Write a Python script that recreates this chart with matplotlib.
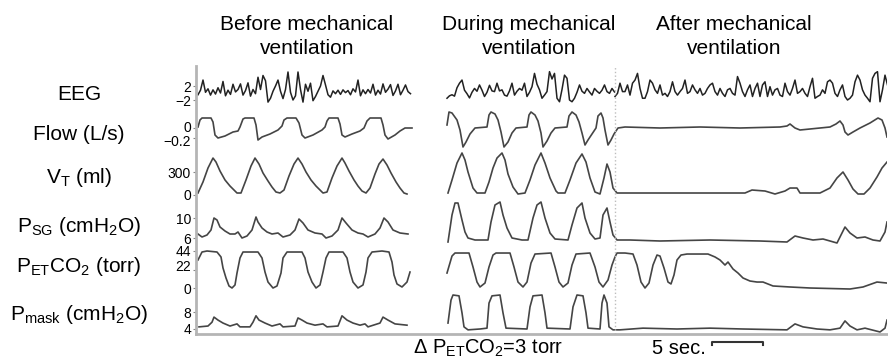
import numpy as np
import matplotlib.pyplot as plt
import matplotlib.transforms as mtransforms

plt.rcParams['font.family'] = ['Liberation Sans', 'DejaVu Sans']
plt.rcParams['mathtext.default'] = 'regular'

# ---- data (time in s, values in the units of each row) ----
EEG_STEP = 0.25
EEG_PRE_START = 0.2
EEG_PRE = [-0.5, 0.8, 3.7, 0.2, 1.2, -0.6, 0.9, -0.3, 1.5, 0.0, 3.3, -0.8,
           0.8, -0.4, 2.5, 0.3, 1.0, 2.6, -0.6, 0.7, 2.9, -0.9, 1.0, -0.2,
           4.5, 1.0, 5.0, 3.5, -2.6, -1.5, 0.5, 2.0, 3.7, 0.5, -1.6, 1.0,
           6.0, 0.2, -2.0, -0.8, 6.0, 1.0, -2.6, 2.5, 0.5, 2.8, -2.2, -1.0,
           0.5, 2.0, 5.0, 2.3, -0.5, -1.2, 0.6, -0.2, 0.8, -0.4, 0.9, 0.1,
           0.7, -0.5, 1.2, 0.3, 3.7, -0.8, 0.9, -0.2, 1.0, 0.0, 2.5, -0.6,
           0.8, -0.3, 2.6, 0.2, 1.1, 2.4, -0.7, 0.6, 2.5, -0.5, 0.8, 2.3,
           0.4, -0.2]
EEG_MID_START = 25.1
EEG_MID = [-1.5, -0.8, -0.5, -0.9, 1.5, 2.8, 3.7, 0.8, -0.2, -1.4, 0.2, 1.3,
           0.5, 2.3, 0.8, -1.0, 0.2, 2.2, 0.6, 0.4, 2.8, 0.6, 0.9, -0.6,
           -0.9, 0.6, 2.8, -0.6, 0.5, 1.3, 0.8, 2.8, -1.0, 0.2, 1.8, 5.6,
           2.5, 0.9, -1.5, -0.6, 0.4, 6.1, 4.0, 5.6, -1.5, -2.5, 1.0, 5.1,
           4.2, -2.0, -2.5, -1.5, 0.2, 2.3, 0.5, -0.1, 1.3, 0.3, -0.6, 1.3,
           0.5, -0.1, 0.8, 2.3, 0.4, -0.1, 1.3, 0.3]
EEG_POST_START = 41.9
EEG_POST = [-1.0, -0.1, 2.8, 0.4, 0.4, 2.3, -0.6, 2.8, 3.7, 5.6, 1.3, -1.5,
            -1.5, 0.4, 3.7, 2.8, 0.9, -0.1, 2.3, -0.6, -0.1, -1.0, 0.4, 3.2,
            0.4, -0.6, 0.4, 1.3, 3.7, -0.1, 0.4, 2.3, 0.9, -0.1, 1.3, -0.6,
            -0.1, 1.3, 2.3, 2.8, 0.4, -0.6, 1.3, -0.1, -1.0, 0.9, 1.3, -0.1,
            -0.6, 4.7, 2.8, 0.4, -1.0, 0.9, 2.3, -1.0, 1.3, 2.8, -1.0, 2.3,
            3.2, -1.0, 1.8, -0.6, 0.9, 1.3, -0.6, -1.0, 2.8, 0.4, -0.6, 1.3,
            3.7, -0.1, 0.4, 1.3, -0.1, -1.0, 1.8, 4.2, -1.5, -1.0, -0.6, 0.9,
            -0.1, 3.2, 3.7, 2.8, -0.1, -1.0, 0.9, 2.3, -1.0, -2.0, -1.5, -0.6,
            3.2, 5.1, 3.7, 0.9, -0.6, -1.5, -2.5, 4.2, 5.6, 6.1, -2.5, 0.9,
            5.1, 2.3]

FLOW_PRE = [(0.2, 0.02), (0.4, 0.16), (0.6, 0.2), (1.5, 0.2), (1.7, 0.12), (1.9, -0.14),
            (2.2, -0.2), (2.9, -0.16), (3.7, -0.08), (4.2, -0.06), (4.4, 0.02), (4.7, 0.18),
            (4.9, 0.2), (5.8, 0.2), (6.0, 0.06), (6.2, -0.24), (6.6, -0.18), (7.4, -0.12),
            (8.2, -0.04), (8.6, 0.04), (8.8, 0.16), (9.1, 0.2), (10.0, 0.2), (10.3, 0.1),
            (10.6, -0.14), (10.9, -0.2), (11.7, -0.14), (12.6, -0.04), (12.9, 0.02),
            (13.1, 0.14), (13.3, 0.2), (14.2, 0.2), (14.4, 0.08), (14.6, -0.14),
            (14.9, -0.18), (15.6, -0.12), (16.4, -0.06), (16.8, 0.0), (17.1, 0.14),
            (17.4, 0.2), (18.5, 0.2), (18.7, 0.06), (18.9, -0.14), (19.2, -0.22),
            (19.9, -0.14), (20.4, -0.06), (20.9, 0.0), (21.6, 0.0)]
FLOW_POST = [(25.1, 0.06), (25.3, 0.32), (25.6, 0.3), (26.1, 0.16), (26.4, -0.04),
             (26.7, -0.38), (27.0, -0.28), (27.4, -0.12), (27.9, 0.0), (29.1, 0.02),
             (29.3, 0.26), (29.5, 0.32), (29.9, 0.28), (30.2, 0.16), (30.5, -0.08),
             (30.8, -0.38), (31.2, -0.28), (31.6, -0.1), (32.0, 0.0), (33.1, 0.02),
             (33.3, 0.26), (33.5, 0.32), (33.9, 0.26), (34.2, 0.14), (34.5, -0.1),
             (34.7, -0.38), (35.1, -0.26), (35.5, -0.1), (35.9, 0.0), (37.1, 0.02),
             (37.3, 0.24), (37.6, 0.32), (38.0, 0.26), (38.3, 0.12), (38.6, -0.1),
             (38.9, -0.34), (39.2, -0.24), (39.6, -0.12), (40.0, 0.0), (40.2, 0.24),
             (40.5, 0.3), (40.7, 0.2), (40.9, -0.04), (41.2, -0.34), (41.5, -0.24),
             (41.8, -0.12), (42.2, 0.0), (42.9, 0.02), (46.4, 0.0), (50.4, 0.02),
             (54.4, 0.0), (58.4, 0.02), (59.1, 0.04), (59.4, 0.08), (59.9, 0.0),
             (60.4, -0.04), (61.4, -0.02), (63.4, 0.02), (64.0, 0.08), (64.4, 0.14),
             (64.7, 0.06), (64.9, -0.08), (65.2, -0.14), (65.7, -0.08), (66.4, 0.0),
             (67.4, 0.1), (68.2, 0.2), (68.6, 0.16), (68.9, 0.0), (69.1, -0.18)]

VT_PRE = [(0.2, 26), (0.7, 170), (1.2, 352), (1.7, 482), (2.0, 430), (2.4, 313), (2.9, 196),
          (3.4, 117), (3.8, 65), (4.1, 26), (4.5, 26), (5.0, 196), (5.5, 378), (5.9, 482),
          (6.3, 404), (6.7, 287), (7.2, 183), (7.6, 104), (8.0, 39), (8.4, 26), (8.8, 65),
          (9.3, 248), (9.8, 404), (10.2, 482), (10.6, 404), (11.0, 300), (11.5, 196),
          (12.0, 117), (12.4, 65), (12.7, 26), (13.1, 39), (13.6, 222), (14.1, 378),
          (14.6, 482), (14.9, 417), (15.3, 313), (15.8, 196), (16.2, 117), (16.6, 52),
          (17.0, 26), (17.4, 91), (17.9, 274), (18.3, 404), (18.7, 469), (19.1, 391),
          (19.5, 287), (20.0, 170), (20.4, 91), (20.8, 26), (21.1, 13)]
VT_POST = [(25.2, 26), (25.6, 196), (26.1, 417), (26.6, 548), (26.9, 456), (27.2, 300),
           (27.7, 91), (28.1, 26), (28.9, 26), (29.3, 170), (29.7, 352), (30.1, 482),
           (30.6, 548), (30.9, 456), (31.2, 274), (31.7, 104), (32.2, 13), (32.9, 26),
           (33.4, 196), (33.9, 391), (34.5, 548), (34.9, 417), (35.4, 222), (36.0, 52),
           (36.2, 26), (36.9, 26), (37.4, 196), (38.0, 417), (38.6, 535), (39.0, 430),
           (39.4, 222), (39.9, 39), (40.4, 13), (40.8, 222), (41.1, 404), (41.4, 300),
           (41.7, 91), (42.1, 26), (50.4, 26), (54.9, 26), (55.6, 65), (56.9, 52),
           (57.9, 13), (58.9, 52), (59.4, 91), (60.1, 91), (60.4, 26), (62.4, 26),
           (63.4, 91), (64.1, 222), (64.7, 300), (65.2, 196), (65.7, 78), (66.2, 13),
           (66.8, 13), (67.4, 91), (68.1, 235), (68.6, 352), (69.1, 430)]

PSG_PRE = [(0.2, 6.8), (0.6, 6.2), (1.1, 6.6), (1.5, 7.6), (1.8, 10.0), (2.1, 9.6), (2.4, 8.2),
           (2.9, 7.4), (3.4, 6.8), (3.9, 6.8), (4.2, 7.2), (4.6, 6.0), (5.1, 6.4), (5.6, 7.6),
           (6.0, 10.2), (6.2, 9.2), (6.6, 8.0), (7.1, 7.2), (7.6, 6.8), (8.2, 7.0), (8.7, 6.2),
           (9.4, 6.6), (9.9, 7.6), (10.3, 9.8), (10.7, 9.0), (11.2, 7.6), (11.9, 7.0),
           (12.6, 6.8), (13.0, 6.0), (13.6, 6.4), (14.2, 7.6), (14.6, 10.0), (15.0, 9.0),
           (15.6, 7.6), (16.2, 7.0), (16.7, 6.8), (17.2, 6.2), (17.9, 6.8), (18.4, 8.0),
           (18.8, 10.0), (19.2, 9.2), (19.7, 7.6), (20.4, 7.0), (21.2, 6.8)]
PSG_POST = [(25.2, 5.2), (25.6, 10.6), (25.9, 13.0), (26.2, 13.0), (26.6, 9.6), (26.9, 7.2),
            (27.2, 6.0), (27.9, 5.6), (29.2, 5.6), (29.5, 9.2), (29.9, 12.6), (30.4, 13.2),
            (30.7, 10.6), (31.1, 8.0), (31.6, 6.0), (32.6, 5.6), (33.2, 5.6), (33.7, 10.0),
            (34.1, 12.6), (34.5, 13.2), (34.9, 10.0), (35.4, 7.0), (35.9, 5.8), (37.2, 5.6),
            (37.6, 8.6), (38.1, 12.0), (38.6, 13.0), (38.9, 10.0), (39.4, 7.0), (39.9, 5.8),
            (40.4, 6.0), (40.7, 10.6), (41.1, 12.0), (41.4, 9.2), (41.7, 6.6), (42.1, 5.6),
            (43.4, 5.6), (46.4, 5.4), (51.4, 5.6), (56.4, 5.4), (59.1, 5.2), (59.9, 6.4),
            (60.7, 6.0), (61.7, 5.6), (62.7, 5.8), (64.1, 5.0), (64.6, 7.0), (64.9, 8.2),
            (65.4, 7.0), (66.1, 6.0), (66.9, 6.2), (67.7, 5.6), (68.4, 5.4), (68.9, 7.2),
            (69.1, 9.2)]

CO2_PRE = [(0.2, 33.3), (0.6, 42.8), (1.1, 44.0), (2.1, 42.8), (2.5, 36.9), (2.7, 23.8),
           (3.0, 11.9), (3.3, 2.4), (3.6, 0.0), (3.9, 3.6), (4.1, 17.8), (4.4, 35.7),
           (4.7, 42.8), (6.2, 42.8), (6.6, 35.7), (6.9, 19.0), (7.2, 7.1), (7.7, 0.0),
           (8.1, 2.4), (8.5, 17.8), (8.7, 35.7), (9.1, 42.8), (10.6, 42.8), (10.9, 35.7),
           (11.2, 19.0), (11.6, 7.1), (12.0, 0.0), (12.4, 3.6), (12.7, 19.0), (13.0, 35.7),
           (13.3, 42.8), (14.7, 42.8), (15.1, 35.7), (15.4, 19.0), (15.7, 7.1), (16.2, 0.0),
           (16.7, 3.6), (17.0, 19.0), (17.2, 35.7), (17.6, 42.8), (18.6, 44.0),
           (19.3, 42.8), (19.6, 30.9), (19.8, 15.5), (20.1, 4.8), (20.6, 1.2), (21.1, 7.1),
           (21.4, 19.0)]
CO2_POST = [(25.1, 17.8), (25.6, 38.0), (25.9, 41.6), (27.3, 41.6), (27.7, 25.0), (28.1, 7.1),
            (28.4, 1.2), (28.9, 5.9), (29.3, 25.0), (29.7, 39.2), (30.0, 41.6), (31.4, 41.6),
            (31.8, 25.0), (32.2, 7.1), (32.7, 1.2), (33.1, 7.1), (33.5, 29.7), (33.9, 40.4),
            (35.5, 41.6), (35.9, 25.0), (36.3, 7.1), (36.7, 1.2), (37.2, 5.9), (37.6, 27.3),
            (38.0, 40.4), (39.4, 41.6), (39.9, 25.0), (40.3, 7.1), (40.7, 1.2), (41.2, 9.5),
            (41.6, 27.3), (41.9, 36.9), (42.1, 41.6), (42.9, 41.6), (43.7, 40.4),
            (44.1, 27.3), (44.5, 7.1), (44.9, 0.0), (45.3, 5.9), (45.7, 27.3), (46.1, 39.2),
            (46.4, 38.0), (46.8, 23.8), (47.2, 7.1), (47.5, 4.8), (47.8, 15.5), (48.1, 33.3),
            (48.5, 39.2), (49.1, 40.4), (51.2, 40.4), (51.9, 36.9), (52.4, 33.3),
            (52.9, 27.3), (53.2, 30.9), (53.7, 22.6), (54.2, 17.8), (54.7, 11.9), (55.4, 8.3),
            (56.1, 7.1), (56.7, 7.1), (57.7, 2.4), (59.4, 1.2), (61.4, 0.0), (65.4, -1.2),
            (66.7, 1.2), (68.1, 7.1), (69.1, 5.9)]

MASK_PRE = [(0.3, 4.5), (1.2, 4.7), (1.6, 5.6), (1.8, 6.8), (2.2, 6.1), (2.7, 5.4), (3.4, 4.7),
            (4.1, 5.2), (4.4, 4.5), (5.4, 4.5), (5.7, 5.6), (6.0, 7.1), (6.3, 6.1), (6.9, 5.4),
            (7.6, 4.7), (8.4, 5.2), (8.7, 4.5), (9.9, 4.7), (10.2, 6.6), (10.6, 6.1),
            (11.1, 5.4), (11.9, 4.9), (12.7, 5.2), (13.1, 4.5), (14.2, 4.7), (14.6, 7.1),
            (15.1, 6.1), (15.7, 5.4), (16.4, 4.9), (16.9, 5.2), (17.2, 4.5), (18.4, 5.4),
            (18.7, 6.8), (19.2, 6.1), (19.9, 5.2), (21.1, 4.9)]
MASK_POST = [(25.2, 5.4), (25.5, 10.8), (25.7, 12.0), (26.3, 11.8), (26.6, 7.8), (26.8, 4.5),
             (27.2, 3.8), (28.4, 4.0), (29.1, 4.2), (29.3, 10.1), (29.6, 11.8), (30.4, 12.0),
             (30.7, 7.8), (31.0, 4.2), (33.1, 4.0), (33.4, 9.2), (33.7, 11.8), (34.6, 12.0),
             (34.9, 7.8), (35.1, 4.2), (37.4, 4.0), (37.7, 9.2), (38.1, 12.0), (38.7, 11.8),
             (39.0, 7.8), (39.2, 4.2), (40.4, 4.0), (40.6, 10.1), (40.8, 12.0), (41.1, 10.1),
             (41.3, 4.5), (41.7, 3.8), (42.4, 3.8), (44.7, 4.2), (48.1, 4.0), (51.4, 4.2),
             (54.7, 4.0), (59.1, 3.8), (59.9, 5.2), (60.7, 4.5), (62.1, 4.0), (63.4, 3.8),
             (64.4, 4.2), (64.9, 5.9), (65.4, 4.7), (66.1, 3.8), (66.9, 4.2), (68.4, 3.3),
             (68.9, 4.2), (69.1, 6.1)]

ROW_LABELS = ['EEG', 'Flow (L/s)', 'V$_{T}$ (ml)', 'P$_{SG}$ (cmH$_{2}$O)',
              'P$_{ET}$CO$_{2}$ (torr)', 'P$_{mask}$ (cmH$_{2}$O)']
ROW_TICKS = [[(2, '2'), (-2, '\u22122')], [(0, '0'), (-0.2, '\u22120.2')],
             [(300, '300'), (0, '0')], [(10, '10'), (6, '6')],
             [(44, '44'), (22, '22'), (0, '0')], [(8, '8'), (4, '4')]]
PHASES = ['Before mechanical', 'During mechanical', 'After mechanical']
SCALE_BAR = (51.6, 56.7)   # 5 s
DELTA_TEXT = '\u0394 P$_{ET}$CO$_{2}$=3 torr'

# ---- layout (pixel positions from the figure) ----
W, H = 888, 361
AX_L, AX_R, AX_T, AX_B = 196, 887, 66, 334
# each row: two (value, pixel row) anchors
ROW_SCALE = [(2, 86, -2, 100), (0, 128, -0.2, 138), (300, 172, 0, 195),
             (10, 218, 6, 238), (44, 251, 0, 288), (8, 312, 4, 329)]
LABEL_BASE = [100, 140, 183, 232, 272, 320]
PHASE_X = [307, 529, 734]
# small vertical nudges (px, up positive) for crowded tick labels: (row, tick index)
TICK_NUDGE = {(1, 0): 1.5, (1, 1): -2.0, (4, 1): 4.0}
TRACE = '#454545'


def to_pos(i, v):
    v1, y1, v2, y2 = ROW_SCALE[i]
    y = y1 + (np.asarray(v, dtype=float) - v1) * (y2 - y1) / (v2 - v1)
    return AX_B - y


fig = plt.figure(figsize=(W / 100, H / 100), dpi=100)
ax = fig.add_axes([AX_L / W, (H - AX_B) / H, (AX_R - AX_L) / W, (AX_B - AX_T) / H])
ax.set_xlim(0, (AX_R - AX_L) / 10)
ax.set_ylim(0, AX_B - AX_T)

# EEG
for start, vals in [(EEG_PRE_START, EEG_PRE), (EEG_MID_START, EEG_MID), (EEG_POST_START, EEG_POST)]:
    t = start + EEG_STEP * np.arange(len(vals))
    ax.plot(t, to_pos(0, vals), color='#222222', lw=1.1)

for i, segs in enumerate([(FLOW_PRE, FLOW_POST), (VT_PRE, VT_POST), (PSG_PRE, PSG_POST),
                          (CO2_PRE, CO2_POST), (MASK_PRE, MASK_POST)], start=1):
    for seg in segs:
        a = np.array(seg, dtype=float)
        ax.plot(a[:, 0], to_pos(i, a[:, 1]), color=TRACE, lw=1.2)

# boundary between during and after
ax.axvline((614.5 - AX_L) / 10, color='#bdbdbd', lw=1, ls=':')

for s in ['top', 'right']:
    ax.spines[s].set_visible(False)
for s in ['left', 'bottom']:
    ax.spines[s].set_color('#b5b5b5')
    ax.spines[s].set_linewidth(2)

ticks, labels, nudges = [], [], []
for i, tl in enumerate(ROW_TICKS):
    for j, (v, lab) in enumerate(tl):
        ticks.append(float(to_pos(i, v)))
        labels.append(lab)
        nudges.append(TICK_NUDGE.get((i, j), 0.0))
ax.set_yticks(ticks)
ax.set_yticklabels(labels, fontsize=10)
ax.tick_params(axis='y', length=2, width=0.8, color='#888888', pad=1.5)
for lab, dy in zip(ax.get_yticklabels(), nudges):
    if dy:
        lab.set_transform(lab.get_transform() +
                          mtransforms.ScaledTranslation(0, dy / 100, fig.dpi_scale_trans))
ax.set_xticks(np.arange(0.75, 69, 1.83))
ax.set_xticklabels([])
ax.tick_params(axis='x', length=2.5, width=1, color='white', direction='inout')

# row labels
for lab, yb in zip(ROW_LABELS, LABEL_BASE):
    fig.text(79 / W, 1 - yb / H, lab, ha='center', va='baseline', fontsize=15)

# phase headers
for name, xc in zip(PHASES, PHASE_X):
    fig.text(xc / W, 1 - 29.5 / H, name, ha='center', va='baseline', fontsize=15)
    fig.text(xc / W, 1 - 54.5 / H, 'ventilation', ha='center', va='baseline', fontsize=15)

# bottom annotations
fig.text(413 / W, 1 - 354 / H, DELTA_TEXT, ha='left', va='baseline', fontsize=14.5)
fig.text(706 / W, 1 - 354 / H, '5 sec.', ha='right', va='baseline', fontsize=14.5)
t0, t1 = SCALE_BAR
ax.plot([t0, t0, t1, t1], [-11, -8, -8, -11], color='#333333', lw=1.5, clip_on=False)

fig.savefig('out.png', dpi=100)
